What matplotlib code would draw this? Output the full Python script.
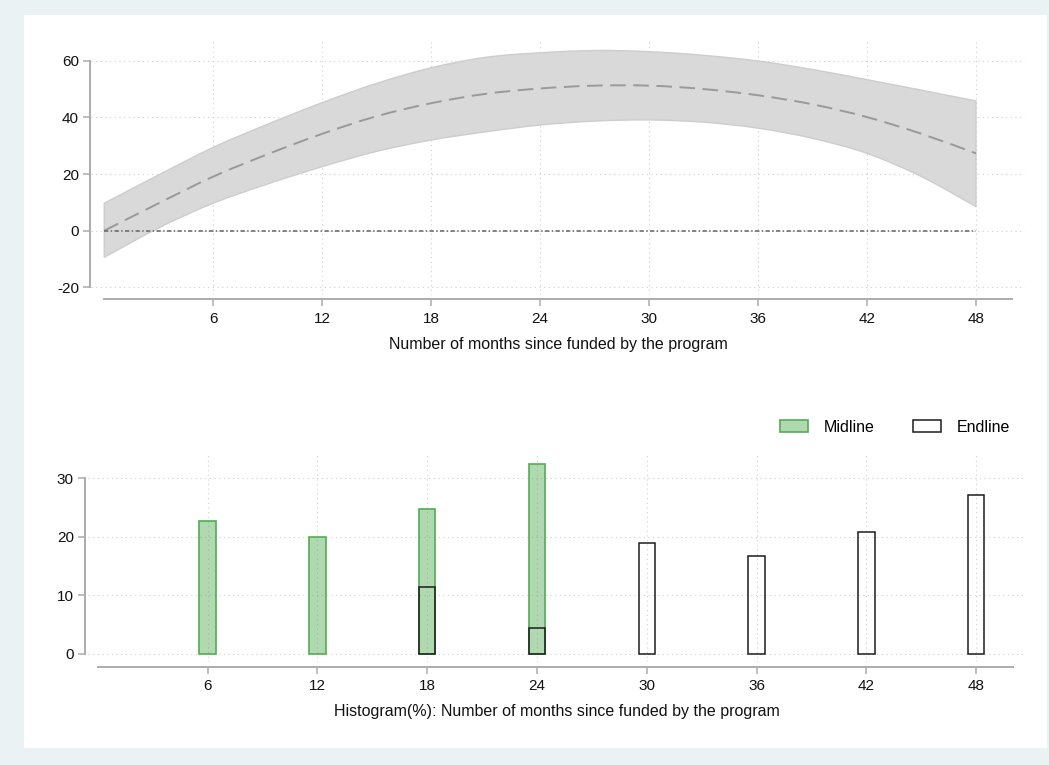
import matplotlib
matplotlib.use("Agg")
import matplotlib.pyplot as plt
from matplotlib.patches import Patch, PathPatch
from matplotlib.path import Path

plt.rcParams['font.family'] = ['Liberation Sans', 'DejaVu Sans']
plt.rcParams['axes.unicode_minus'] = False

# ---- data -------------------------------------------------------------
months = [0, 3, 6, 9, 12, 15, 18, 21, 24, 27, 30, 33, 36, 39, 42, 45, 48]
effect = [0.0, 9.7, 19.1, 27.0, 34.2, 40.4, 45.0, 48.3, 50.2, 51.2, 51.2,
          50.0, 47.8, 44.6, 40.1, 34.2, 27.3]
ci_low = [-9.4, 1.0, 9.7, 16.5, 22.6, 28.0, 32.0, 34.9, 37.3, 38.7, 39.1,
          38.3, 36.2, 32.6, 27.3, 19.1, 8.5]
ci_high = [9.7, 19.7, 29.4, 37.6, 45.2, 52.0, 57.5, 61.2, 62.8, 63.6, 63.2,
           61.9, 59.9, 56.9, 53.3, 49.6, 45.8]

month_ticks = [6, 12, 18, 24, 30, 36, 42, 48]
effect_ticks = [-20, 0, 20, 40, 60]
pct_ticks = [0, 10, 20, 30]

midline_bins = [6, 12, 18, 24]
midline_pct = [22.7, 19.9, 24.8, 32.4]
endline_bins = [18, 24, 30, 36, 42, 48]
endline_pct = [11.4, 4.4, 19.0, 16.8, 20.8, 27.2]

# ---- figure -----------------------------------------------------------
W, H, DPI = 1049, 765, 100
fig = plt.figure(figsize=(W / DPI, H / DPI), dpi=DPI, facecolor='#eaf2f3')

# white inner panel behind both plots
panel = fig.add_axes([24 / W, 1 - 748 / H, (1047 - 24) / W, (748 - 15) / H], zorder=-10)
panel.set_facecolor('white')
panel.set_xticks([])
panel.set_yticks([])
for s in panel.spines.values():
    s.set_visible(False)


def px_axes(left, top, right, bottom):
    return fig.add_axes([left / W, 1 - bottom / H, (right - left) / W, (bottom - top) / H])


def smooth_segments(xs, ys):
    """Catmull-Rom curve through the points, as cubic Bezier control points."""
    pts = list(zip(xs, ys))
    n = len(pts)
    verts = []
    for i in range(n - 1):
        p0 = pts[max(i - 1, 0)]
        p1 = pts[i]
        p2 = pts[i + 1]
        p3 = pts[min(i + 2, n - 1)]
        c1 = (p1[0] + (p2[0] - p0[0]) / 6, p1[1] + (p2[1] - p0[1]) / 6)
        c2 = (p2[0] - (p3[0] - p1[0]) / 6, p2[1] - (p3[1] - p1[1]) / 6)
        verts += [c1, c2, p2]
    return verts


def curve_path(xs, ys):
    segs = smooth_segments(xs, ys)
    verts = [(xs[0], ys[0])] + segs
    codes = [Path.MOVETO] + [Path.CURVE4] * len(segs)
    return Path(verts, codes)


def band_path(xs, lo, hi):
    top = smooth_segments(xs, hi)
    bot = smooth_segments(xs[::-1], lo[::-1])
    verts = [(xs[0], hi[0])] + top + [(xs[-1], lo[-1])] + bot + [(xs[0], hi[0])]
    codes = ([Path.MOVETO] + [Path.CURVE4] * len(top) + [Path.LINETO]
             + [Path.CURVE4] * len(bot) + [Path.CLOSEPOLY])
    return Path(verts, codes)


AXIS_COL = '#acacac'
GRID_COL = '#cfcfcf'
TICK_FS = 11
TITLE_FS = 11.5


def style_axes(ax, xb, yb, left_out, bottom_out):
    ax.set_facecolor('none')
    for s in ('top', 'right'):
        ax.spines[s].set_visible(False)
    for s in ('left', 'bottom'):
        ax.spines[s].set_color(AXIS_COL)
        ax.spines[s].set_linewidth(1.4)
    ax.spines['left'].set_bounds(*yb)
    ax.spines['bottom'].set_bounds(*xb)
    ax.spines['left'].set_position(('outward', left_out))
    ax.spines['bottom'].set_position(('outward', bottom_out))
    ax.tick_params(axis='both', colors=AXIS_COL, labelcolor='#111111',
                   labelsize=TICK_FS, length=5, width=1.1)
    ax.tick_params(axis='y', pad=3)
    ax.tick_params(axis='x', pad=4)
    ax.grid(True, linestyle=(0, (1, 3.2)), color=GRID_COL, linewidth=0.8)
    ax.set_axisbelow(True)


# ---- upper panel: fitted effect with confidence band -------------------
ax1 = px_axes(91, 41, 1025, 295)
ax1.set_xlim(-0.73, 50.7)
ax1.set_ylim(-22.7, 66.96)
ax1.set_xticks(month_ticks)
ax1.set_yticks(effect_ticks)
style_axes(ax1, (0, 50), (-20, 60), 0.7, 2.9)

ax1.add_patch(PathPatch(band_path(months, ci_low, ci_high), facecolor='#d9d9d9',
                        edgecolor='#cdcdcd', linewidth=1.0, zorder=2))
ax1.add_patch(PathPatch(curve_path(months, effect), fill=False, edgecolor='#999999',
                        linewidth=1.4, linestyle=(0, (8, 3.9)), zorder=3))
ax1.plot([months[0], months[-1]], [0, 0], color='#6e6e6e', linewidth=1.2,
         linestyle=(0, (2.6, 1.4, 0.9, 1.4)), zorder=3)
ax1.set_xlabel('Number of months since funded by the program',
               fontsize=TITLE_FS, color='#111111', labelpad=8)

# ---- lower panel: histogram of months since funding -------------------
ax2 = px_axes(88, 452, 1026, 662)
ax2.set_xlim(-0.54, 50.72)
ax2.set_ylim(-1.37, 34.47)
ax2.set_xticks(month_ticks)
ax2.set_yticks(pct_ticks)
style_axes(ax2, (0, 50), (0, 30), 2.2, 3.4)

ax2.bar(midline_bins, midline_pct, width=0.9,
        color=(0.243, 0.627, 0.243, 0.4), edgecolor='#52ad52',
        linewidth=1.2, zorder=2)
ax2.bar(endline_bins, endline_pct, width=0.9, facecolor='none',
        edgecolor='#1c1c1c', linewidth=1.1, zorder=3)
ax2.set_xlabel('Histogram(%): Number of months since funded by the program',
               fontsize=TITLE_FS, color='#111111', labelpad=7.5)

handles = [Patch(facecolor=(0.243, 0.627, 0.243, 0.4), edgecolor='#52ad52',
                 linewidth=1.2, label='Midline'),
           Patch(facecolor='none', edgecolor='#1c1c1c', linewidth=1.1,
                 label='Endline')]
fig.legend(handles=handles, loc='center right', ncol=2, frameon=False,
           fontsize=11.5, bbox_to_anchor=(1010 / W, 1 - 427 / H),
           borderaxespad=0, borderpad=0, handlelength=1.75,
           handleheight=0.75, handletextpad=1.0, columnspacing=2.4)

fig.savefig('out.png', dpi=DPI, facecolor=fig.get_facecolor())
